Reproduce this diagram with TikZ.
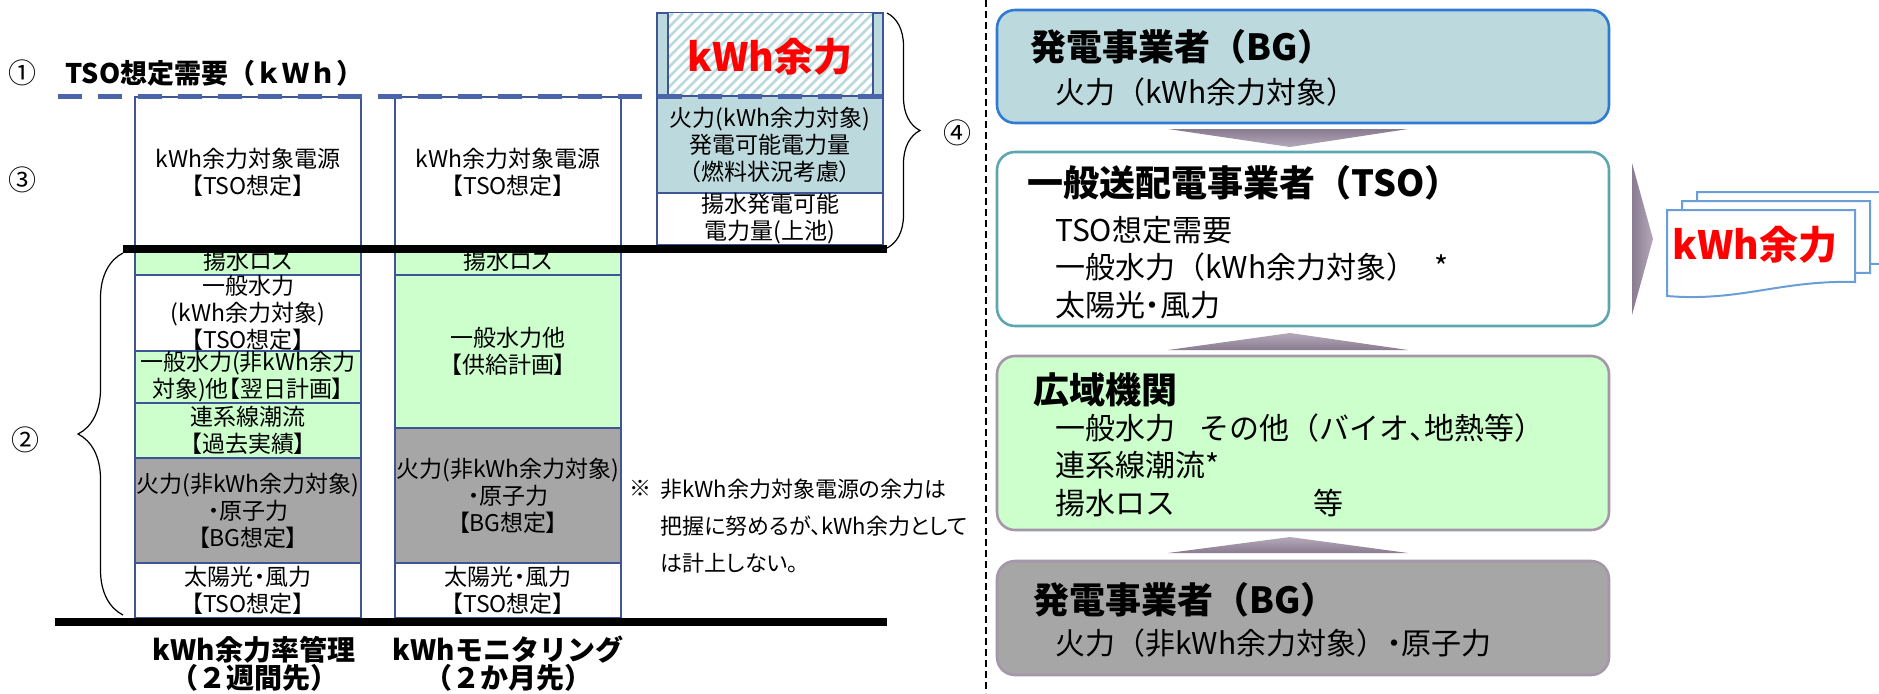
\documentclass[tikz,border=0pt]{standalone}
\usepackage{fontspec}
\setmainfont{Noto Sans CJK JP}
\newfontfamily\propfont{Noto Sans CJK JP}[RawFeature=+palt]
\usetikzlibrary{decorations.pathreplacing}

\definecolor{cellblue}{HTML}{3E5596}
\definecolor{dashblue}{HTML}{4A65AA}
\definecolor{mint}{HTML}{CCFFCC}
\definecolor{midgray}{HTML}{A6A6A6}
\definecolor{paleteal}{HTML}{BCD9DD}
\definecolor{bgblue}{HTML}{2F7BD3}
\definecolor{tsoteal}{HTML}{5CA6B0}
\definecolor{mauve}{HTML}{A597A9}
\definecolor{arrowdark}{HTML}{8A7B90}
\definecolor{arrowlight}{HTML}{B4A9B9}
\definecolor{docblue}{HTML}{6A9ED6}
\definecolor{alertred}{HTML}{FF0000}

\newcommand{\cellfont}{\propfont\fontsize{11.5}{13.5}\selectfont}

\tikzset{
  cell/.style={draw=cellblue, line width=1pt, minimum width=113pt, inner sep=0pt, align=center, font=\cellfont},
  thin cell/.style={cell, minimum height=11.5pt, text height=8.5pt, text depth=2.5pt},
  sidebox/.style={rounded corners=9pt, line width=1.3pt, minimum width=306pt},
  boxtitle/.style={anchor=west, inner sep=0pt, font=\fontsize{18}{18}\selectfont\bfseries},
  boxline/.style={anchor=west, inner sep=0pt, font=\fontsize{15}{16}\selectfont},
  bar/.style={line width=4pt, black},
  curly/.style={decorate, decoration={brace, amplitude=#1}, line width=0.6pt},
  marker/.style={inner sep=0pt, font=\fontsize{14}{14}\selectfont},
  docpage/.style={fill=white, draw=docblue, line width=1pt},
}

\begin{document}
\begin{tikzpicture}[x=0.5pt, y=-0.5pt]
\useasboundingbox (0,0) rectangle (1879,693);

% Column 1: kWh余力率管理
\node[cell, minimum height=75.5pt] (c1top) at (248,172.5) {kWh余力対象電源\\【TSO想定】};
\node[thin cell, fill=mint] (c1pump) at (248,263.5) {揚水ロス};
\node[cell, minimum height=38pt] (c1hydro) at (248,313) {一般水力\\(kWh余力対象)\\【TSO想定】};
\node[cell, fill=mint, minimum height=26pt] (c1other) at (248,377) {一般水力(非kWh余力\\対象)他【翌日計画】};
\node[cell, fill=mint, minimum height=27.5pt] (c1tie) at (248,430.5) {連系線潮流\\【過去実績】};
\node[cell, fill=midgray, minimum height=52.5pt] (c1thermal) at (248,510.5) {火力(非kWh余力対象)\\・原子力\\【BG想定】};
\node[cell, minimum height=27.5pt] (c1solar) at (248,590.5) {太陽光・風力\\【TSO想定】};

% Column 2: kWhモニタリング
\node[cell, minimum height=75.5pt] (c2top) at (508,172.5) {kWh余力対象電源\\【TSO想定】};
\node[thin cell, fill=mint] (c2pump) at (508,263.5) {揚水ロス};
\node[cell, fill=mint, minimum height=76.5pt] (c2hydro) at (508,351.5) {一般水力他\\【供給計画】};
\node[cell, fill=midgray, minimum height=67.5pt] (c2thermal) at (508,495.5) {火力(非kWh余力対象)\\・原子力\\【BG想定】};
\node[cell, minimum height=27.5pt] (c2solar) at (508,590.5) {太陽光・風力\\【TSO想定】};

% Column 3: kWh余力
\node[cell, fill=paleteal, minimum height=41.5pt] (c3cap) at (770,54.5) {};
\fill[white] (668,13) rectangle (873,96);
\begin{scope}
  \clip (668,13) rectangle (873,96);
  \foreach \hx in {580,590,...,880}
    \draw[paleteal, line width=1.3pt] (\hx,96) -- ++(83,-83);
\end{scope}
\draw[cellblue, line width=1pt] (668,13) -- (668,96) (873,13) -- (873,96);
\node[text=alertred, font=\fontsize{19.5}{20}\selectfont\bfseries] (c3label) at (770,57) {kWh余力};
\node[cell, fill=paleteal, minimum height=48.5pt] (c3thermal) at (770,144.5) {火力(kWh余力対象)\\発電可能電力量\\（燃料状況考慮）};
\node[cell, minimum height=26pt] (c3pumped) at (770,219) {揚水発電可能\\電力量(上池)};

% Base lines and demand line
\draw[bar] (123,248.5) -- (887,248.5);
\draw[bar] (55,622) -- (887,622);
\draw[dashblue, line width=2.5pt, dash pattern=on 12pt off 8pt] (58,96) -- (883,96);

% Braces and markers
\draw[curly=22.5pt] (123,615) -- (123,253);
\draw[curly=16.5pt] (887,13) -- (887,248);
\node[marker] (m1) at (23,73) {①};
\node[marker] (m2) at (25,440) {②};
\node[marker] (m3) at (23,180) {③};
\node[marker] (m4) at (957,133) {④};
\node[anchor=west, inner sep=0pt, font=\fontsize{13.5}{13.5}\selectfont\bfseries] (demand) at (65,73) {TSO想定需要（ｋＷｈ）};

% Column captions
\node[align=center, font=\fontsize{14}{14}\selectfont\bfseries] (cap1) at (254,664) {kWh余力率管理\\（２週間先）};
\node[align=center, font=\fontsize{14}{14}\selectfont\bfseries] (cap2) at (508,664) {kWhモニタリング\\（２か月先）};

% Note
\node[inner sep=0pt, font=\fontsize{11}{11}\selectfont] (notemark) at (640,488) {※};
\node[anchor=west, align=left, inner sep=0pt, font=\propfont\fontsize{11}{18.5}\selectfont] (notetext) at (660,526) {非kWh余力対象電源の余力は\\把握に努めるが、kWh余力として\\は計上しない。};

% Divider
\draw[line width=1pt, dash pattern=on 3.5pt off 2pt] (986,0) -- (986,693);

% Right side: flow of data
\node[sidebox, draw=bgblue, fill=paleteal, minimum height=56.5pt] (bgtop) at (1303,66.5) {};
\node[boxtitle] (bgtoptitle) at (1030,47) {発電事業者（BG）};
\node[boxline] (bgtopline) at (1055,92) {火力（kWh余力対象）};

\node[sidebox, draw=tsoteal, fill=white, minimum height=87pt] (tso) at (1303,239) {};
\node[boxtitle] (tsotitle) at (1027,183) {一般送配電事業者（TSO）};
\node[boxline] (tsoline1) at (1055,230) {TSO想定需要};
\node[boxline] (tsoline2) at (1055,267) {一般水力（kWh余力対象）\hspace{0.6em}*};
\node[boxline] (tsoline3) at (1055,305) {太陽光{\propfont ・}風力};

\node[sidebox, draw=mauve, fill=mint, minimum height=87pt] (occto) at (1303,443) {};
\node[boxtitle] (occtotitle) at (1033,390) {広域機関};
\node[boxline] (occtoline1) at (1055,428) {一般水力\hspace{0.8em}その他（バイオ{\propfont 、}地熱等）};
\node[boxline] (occtoline2) at (1055,465) {連系線潮流*};
\node[boxline] (occtoline3) at (1055,503) {揚水ロス\hspace{4.6em}等};

\node[sidebox, draw=mauve, fill=midgray, minimum height=57pt] (bgbot) at (1303,618) {};
\node[boxtitle] (bgbottitle) at (1033,600) {発電事業者（BG）};
\node[boxline] (bgbotline) at (1055,643) {火力（非kWh余力対象）{\propfont ・}原子力};

% Flow arrows
\shade[top color=arrowdark, bottom color=arrowlight] (1168,129) -- (1408,129) -- (1290,147) -- cycle;
\shade[top color=arrowlight, bottom color=arrowdark] (1168,350) -- (1408,350) -- (1290,333) -- cycle;
\shade[top color=arrowlight, bottom color=arrowdark] (1168,553) -- (1408,553) -- (1290,537) -- cycle;
\shade[left color=arrowdark, right color=arrowlight] (1632,163) -- (1653,239) -- (1632,315) -- cycle;

% Output documents
\foreach \i in {2,1,0} {
  \pgfmathsetmacro{\dx}{1667+15*\i}
  \pgfmathsetmacro{\dy}{210-9*\i}
  \filldraw[docpage] (\dx,\dy) -- ({\dx+188},\dy) -- ({\dx+188},{\dy+72})
    .. controls ({\dx+113},{\dy+70}) and ({\dx+73},{\dy+92}) .. (\dx,{\dy+86}) -- cycle;
}
\node[text=alertred, font=\fontsize{19.5}{20}\selectfont\bfseries] (doclabel) at (1755,245) {kWh余力};
\end{tikzpicture}
\end{document}
